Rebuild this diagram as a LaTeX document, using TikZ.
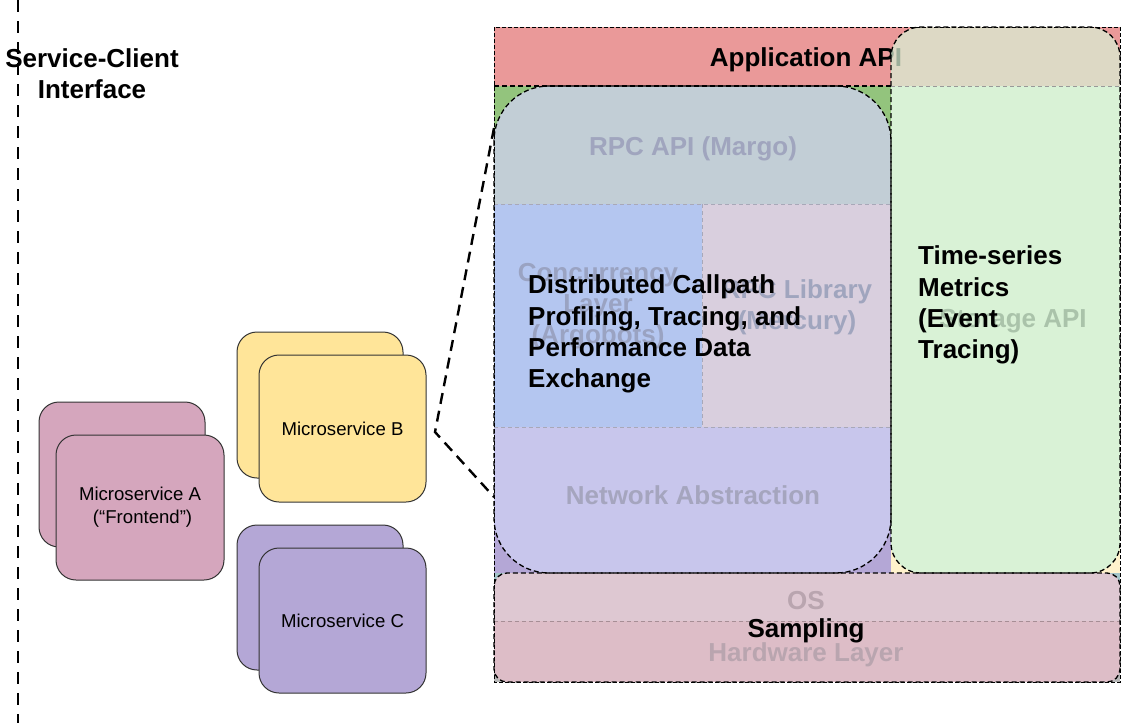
\documentclass[tikz,border=0pt]{standalone}
\usepackage{fontspec}
\setmainfont{Liberation Sans}
\usetikzlibrary{calc}
\definecolor{cRed}{HTML}{EA9999}
\definecolor{cGreen}{HTML}{93C47D}
\definecolor{cPurple}{HTML}{B4A7D6}
\definecolor{cYellow}{HTML}{FFF2CC}
\definecolor{cTeal}{HTML}{A2C4C9}
\definecolor{cGray}{HTML}{B7B7B7}
\definecolor{cRpc}{HTML}{C2CED6}
\definecolor{cConc}{HTML}{B4C6F0}
\definecolor{cLib}{HTML}{D9CFDE}
\definecolor{cNet}{HTML}{C8C6EC}
\definecolor{cLight}{HTML}{D9F2D6}
\definecolor{cOS}{HTML}{DEC8D2}
\definecolor{cHW}{HTML}{DDBDC7}
\definecolor{cMA}{HTML}{D5A6BD}
\definecolor{cMB}{HTML}{FFE599}
\definecolor{cMC}{HTML}{B4A7D6}
\definecolor{tRpc}{HTML}{A0A5BE}
\definecolor{tConc}{HTML}{9AA3C2}
\definecolor{tNet}{HTML}{A5A5BE}
\definecolor{tOS}{HTML}{B9A5AF}
\definecolor{tSto}{HTML}{AAC3AA}
\definecolor{cSep}{HTML}{A8A8B8}
\begin{document}
\begin{tikzpicture}[x=1pt,y=-1pt,
  big/.style={font=\fontsize{26}{31}\selectfont\bfseries, inner sep=0pt, align=center, yshift=-3pt},
  bigl/.style={font=\fontsize{26}{31.3}\selectfont\bfseries, inner sep=0pt, align=left, anchor=west, yshift=-3pt},
  small/.style={font=\fontsize{18.6}{23}\selectfont, inner sep=0pt, align=center},
  msbox/.style={draw=black!80, line width=1pt, rounded corners=20pt, inner sep=0pt},
  divider/.style={draw=cSep, dashed, line width=0.7pt, dash pattern=on 4pt off 3pt},
  boxborder/.style={draw=black, line width=1.3pt, dash pattern=on 5pt off 3pt},
  zoomline/.style={draw=black, line width=2.4pt, dash pattern=on 11pt off 7pt},
]
\useasboundingbox (0,0) rectangle (1122,723);

% service-client interface
\coordinate (ifTop) at (18,0);
\coordinate (ifBot) at (18,723);
\draw[line width=2.4pt, dash pattern=on 12pt off 9pt] (ifTop) -- (ifBot);
\node[big] (iface) at (92,71) {Service-Client\\Interface};

% microservices
\node[msbox, fill=cMA, minimum width=166pt, minimum height=145pt] (Aback) at (122,474.5) {};
\node[msbox, fill=cMA, minimum width=168pt, minimum height=145pt, small] (A) at (140,507.5) {Microservice A\\ \ (“Frontend”)};
\node[msbox, fill=cMB, minimum width=166pt, minimum height=146pt] (Bback) at (320,405) {};
\node[msbox, fill=cMB, minimum width=167pt, minimum height=147pt, small] (B) at (342.5,428.5) {Microservice B};
\node[msbox, fill=cMC, minimum width=166pt, minimum height=145pt] (Cback) at (320,597.5) {};
\node[msbox, fill=cMC, minimum width=167pt, minimum height=145pt, small] (C) at (342.5,620.5) {Microservice C};

% panel background layers
\fill[cRed] (494,27) rectangle (1120,86);
\fill[cGreen] (494,86) rectangle (891,204);
\fill[cPurple] (494,427) rectangle (891,573);
\fill[cYellow] (891,86) rectangle (1120,573);
\fill[cTeal] (494,573) rectangle (1120,628);
\fill[cGray] (494,628) rectangle (1120,682);

\node[big] (appapi) at (806,57) {Application API};

% distributed box interior
\begin{scope}
\clip[rounded corners=55pt] (494,86) rectangle (891,573);
\fill[cRpc] (494,86) rectangle (891,204);
\fill[cConc] (494,204) rectangle (702,427);
\fill[cLib] (702,204) rectangle (891,427);
\fill[cNet] (494,427) rectangle (891,573);
\draw[divider] (494,204) -- (891,204);
\draw[divider] (494,427) -- (891,427);
\draw[divider] (702,204) -- (702,427);
\end{scope}
\node[big, text=tRpc] (rpcapi) at (693,146) {RPC API (Margo)};
\node[big, text=tConc] (conc) at (598,303) {Concurrency\\Layer\\(Argobots)};
\node[big, text=tRpc] (rpclib) at (797,304) {RPC Library\\(Mercury)};
\node[big, text=tNet] (net) at (693,492) {Network Abstraction};

% time-series box interior
\begin{scope}
\clip[rounded corners=30pt] (891,27) rectangle (1120,573);
\fill[cLight] (891,86) rectangle (1120,573);
\fill[cLight, fill opacity=0.72] (891,27) rectangle (1120,86);
\draw[divider, draw=black!40] (891,86) -- (1120,86);
\end{scope}
\node[big, text=tSto] (storage) at (1013,318) {Storage API};

% OS / hardware box interior
\begin{scope}
\clip[rounded corners=13pt] (494,573) rectangle (1120,682);
\fill[cOS] (494,573) rectangle (1120,621);
\fill[cHW] (494,621) rectangle (1120,682);
\draw[divider, draw=cHW!75!black] (494,621) -- (1120,621);
\end{scope}
\node[big, text=tOS] (os) at (806,598) {OS};
\node[big, text=tOS] (hw) at (806,652) {Hardware Layer};

% borders
\draw[boxborder] (494,86) -- (891,86);
\draw[boxborder, rounded corners=55pt] (494,86) rectangle (891,573);
\draw[boxborder, rounded corners=30pt] (891,27) rectangle (1120,573);
\draw[boxborder, rounded corners=13pt] (494,573) rectangle (1120,682);
\draw[black, line width=0.9pt, dash pattern=on 4pt off 2pt] (494,27) rectangle (1120,682);

% foreground labels
\node[bigl] (dist) at (528,331) {Distributed Callpath\\Profiling, Tracing, and\\Performance Data\\Exchange};
\node[bigl] (ts) at (918,302) {Time-series\\Metrics\\(Event\\Tracing)};
\node[big] (sampling) at (806,628) {Sampling};

% zoom connectors
\coordinate (tip) at (435,432);
\coordinate (pTop) at (494,128);
\coordinate (pBot) at (494,497);
\draw[zoomline] (pTop) -- (tip) -- (pBot);
\end{tikzpicture}
\end{document}
